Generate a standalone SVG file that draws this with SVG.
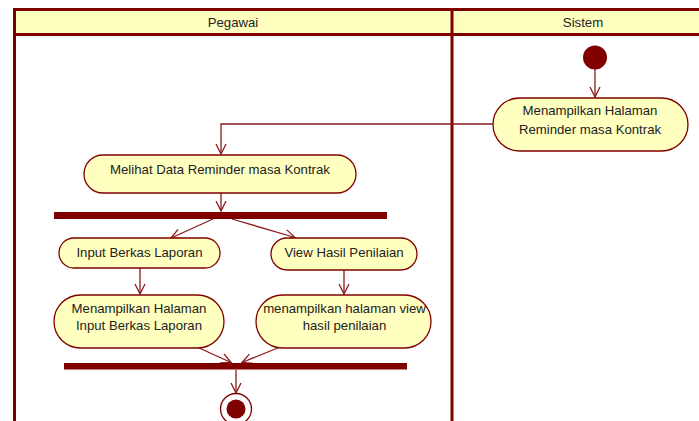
<svg xmlns="http://www.w3.org/2000/svg" width="699" height="421" viewBox="0 0 699 421">
<style>
.lane{fill:#FFFFC0;stroke:#800000;stroke-width:3}
.lline{stroke:#800000;stroke-width:3;fill:none}
.act{fill:#FFFFC0;stroke:#800000;stroke-width:1.3}
.t{font-family:"Liberation Sans",Arial,sans-serif;font-size:13.2px;fill:#222;text-anchor:middle}
.c{stroke:#8B1A1A;stroke-width:1.3;fill:none}
.bar{fill:#800000}
</style>
<defs>
<marker id="ah" markerWidth="12" markerHeight="12" viewBox="-11 -6 12 12" refX="0" refY="0" orient="auto" markerUnits="userSpaceOnUse">
<path d="M-10,-5 L0,0 L-10,5" fill="none" stroke="#8B1A1A" stroke-width="1.3"/>
</marker>
</defs>
<g id="swimlanes">
<rect class="lane" x="14.5" y="9.5" width="700" height="25"/>
<line class="lline" x1="14.5" y1="34" x2="14.5" y2="421"/>
<line class="lline" x1="452" y1="9.5" x2="452" y2="421"/>
<text class="t" x="233" y="27">Pegawai</text>
<text class="t" x="583" y="27">Sistem</text>
</g>
<g id="connectors">
<line class="c" x1="595" y1="68" x2="595" y2="97" marker-end="url(#ah)"/>
<polyline class="c" points="493,124 221,124 221,154" marker-end="url(#ah)"/>
<line class="c" x1="221" y1="193" x2="221" y2="211" marker-end="url(#ah)"/>
<line class="c" x1="213" y1="219" x2="171" y2="238" marker-end="url(#ah)"/>
<line class="c" x1="232" y1="219" x2="295" y2="237.5" marker-end="url(#ah)"/>
<line class="c" x1="140" y1="268" x2="140" y2="294" marker-end="url(#ah)"/>
<line class="c" x1="344" y1="270" x2="344" y2="294" marker-end="url(#ah)"/>
<line class="c" x1="197" y1="347" x2="231" y2="362.5" marker-end="url(#ah)"/>
<line class="c" x1="280" y1="347" x2="242" y2="362.5" marker-end="url(#ah)"/>
<line class="c" x1="236" y1="370" x2="236" y2="393" marker-end="url(#ah)"/>
</g>
<g id="start">
<circle cx="595" cy="57.5" r="12" fill="#800000"/>
</g>
<g id="reminder-sistem">
<rect class="act" x="493" y="98" width="195" height="53" rx="26.5"/>
<text class="t" x="590" y="115">Menampilkan Halaman</text>
<text class="t" x="590" y="133.5">Reminder masa Kontrak</text>
</g>
<g id="melihat-data">
<rect class="act" x="84" y="155" width="272" height="38" rx="19"/>
<text class="t" x="220" y="173.5">Melihat Data Reminder masa Kontrak</text>
</g>
<g id="fork">
<rect class="bar" x="54" y="212" width="333" height="7"/>
</g>
<g id="input-berkas">
<rect class="act" x="59" y="238" width="161" height="30" rx="15"/>
<text class="t" x="139.5" y="256.5">Input Berkas Laporan</text>
</g>
<g id="view-hasil">
<rect class="act" x="271" y="238" width="146" height="32" rx="16"/>
<text class="t" x="344" y="256.5">View Hasil Penilaian</text>
</g>
<g id="halaman-input">
<rect class="act" x="54" y="295" width="170" height="53" rx="26.5"/>
<text class="t" x="139" y="313">Menampilkan Halaman</text>
<text class="t" x="139" y="330">Input Berkas Laporan</text>
</g>
<g id="halaman-view">
<rect class="act" x="256" y="295" width="175" height="53" rx="26.5"/>
<text class="t" x="344.5" y="313">menampilkan halaman view</text>
<text class="t" x="344.5" y="330">hasil penilaian</text>
</g>
<g id="join">
<rect class="bar" x="64" y="363" width="343" height="6.5"/>
</g>
<g id="end">
<circle cx="236" cy="409" r="15.5" fill="none" stroke="#800000" stroke-width="1.3"/>
<circle cx="236" cy="409" r="9.5" fill="#800000"/>
</g>
</svg>
